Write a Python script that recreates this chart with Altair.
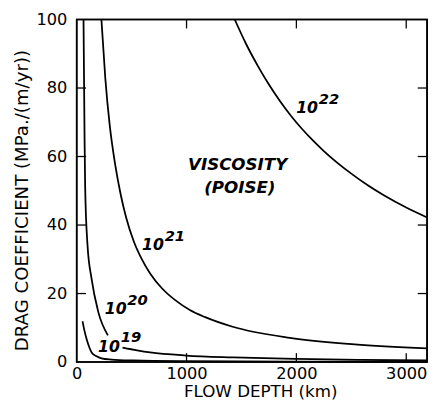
import altair as alt
import pandas as pd

# ---- curve data: flow depth (km) vs drag coefficient ----
x_1e22 = [1439, 1540, 1650, 1750, 1850, 1950, 2050, 2150, 2250, 2500, 2650, 2800, 3000, 3190]
y_1e22 = [100, 93.0, 86.4, 81.0, 76.2, 71.9, 68.1, 64.7, 61.6, 55.0, 51.6, 48.6, 45.1, 42.2]

x_1e21 = [225, 260, 300, 350, 400, 450, 520, 590, 670, 780, 900, 1030, 1170, 1420, 1940, 2530, 3190]
y_1e21 = [100, 83, 69.3, 57.7, 49, 42.2, 35.2, 30.2, 25.8, 21.4, 18.0, 15.2, 13.1, 10.3, 7.06, 5.18, 4.0]

x_1e20a = [62, 71, 77, 98, 136, 195, 284]
y_1e20a = [100, 67.4, 51, 34.3, 24.2, 14.8, 7.8]
x_1e20b = [417, 550, 669, 995, 1424, 2000, 2600, 3190]
y_1e20b = [4.2, 3.4, 2.8, 1.9, 1.35, 0.9, 0.6, 0.45]

x_1e19 = [53, 71, 92, 113, 136, 181, 225, 314, 521, 1000, 2000, 3190]
y_1e19 = [11.9, 9.1, 6.5, 4.45, 2.8, 1.67, 1.1, 0.74, 0.46, 0.25, 0.12, 0.08]

# curve labels (base "10" + exponent)
lab_base = ["10", "10", "10", "10"]
lab_exp = ["22", "21", "20", "19"]
lab_x = [1998, 595, 255, 195]
lab_y = [72.6, 32.6, 13.9, 3.0]

note_text = ["VISCOSITY", "(POISE)"]
note_x = [1465, 1485]
note_y = [57.6, 50.9]

x_ticks = [1000, 2000, 3000]
y_ticks = [20, 40, 60, 80]
x_labels = [0, 1000, 2000, 3000]
y_labels = [0, 20, 40, 60, 80, 100]

XMAX = 3190
YMAX = 100

rows = []
for name, xs, ys in [("1e22", x_1e22, y_1e22), ("1e21", x_1e21, y_1e21),
                     ("1e20a", x_1e20a, y_1e20a), ("1e20b", x_1e20b, y_1e20b),
                     ("1e19", x_1e19, y_1e19)]:
    for a, b in zip(xs, ys):
        rows.append({"seg": name, "depth": a, "drag": b})
curves = pd.DataFrame(rows)

labels = pd.DataFrame({"depth": lab_x, "drag": lab_y, "base": lab_base, "exp": lab_exp})
notes = pd.DataFrame({"depth": note_x, "drag": note_y, "t": note_text})

TX = 2.6      # inward tick length in data units (y)
TY = 85       # inward tick length in data units (x)
xt_bottom = pd.DataFrame({"depth": x_ticks, "drag": [0] * 3, "drag2": [TX] * 3})
xt_top = pd.DataFrame({"depth": x_ticks, "drag": [YMAX] * 3, "drag2": [YMAX - TX] * 3})
yt_left = pd.DataFrame({"drag": y_ticks, "depth": [0] * 4, "depth2": [TY] * 4})
yt_right = pd.DataFrame({"drag": y_ticks, "depth": [XMAX] * 4, "depth2": [XMAX - TY] * 4})
frame = pd.DataFrame({"depth": [0], "depth2": [XMAX], "drag": [0], "drag2": [YMAX]})

FONT = "DejaVu Sans"

xscale = alt.Scale(domain=[0, XMAX], nice=False, zero=False)
yscale = alt.Scale(domain=[0, YMAX], nice=False)

xaxis = alt.Axis(values=x_labels, format="d", ticks=False, domain=False, grid=False,
                 labelFont=FONT, labelFontSize=16.5, labelColor="black",
                 labelPadding=4, labelFlush=False, labelOverlap=False,
                 title="FLOW DEPTH (km)", titleFont=FONT, titleFontSize=17,
                 titleFontWeight="normal", titleColor="black",
                 titleX=187, titleY=35, titleBaseline="alphabetic", titleAlign="center")
yaxis = alt.Axis(values=y_labels, format="d", ticks=False, domain=False, grid=False,
                 labelFont=FONT, labelFontSize=16.5, labelColor="black",
                 labelPadding=10, labelFlush=False, labelOverlap=False,
                 title="DRAG COEFFICIENT (MPa./(m/yr))", titleFont=FONT, titleFontSize=18.5,
                 titleFontWeight="normal", titleColor="black",
                 titleX=-50, titleY=184, titleBaseline="alphabetic", titleAlign="center")

lines = alt.Chart(curves).mark_line(color="black", strokeWidth=1.8, interpolate="monotone").encode(
    x=alt.X("depth:Q", scale=xscale, axis=xaxis),
    y=alt.Y("drag:Q", scale=yscale, axis=yaxis),
    detail="seg:N",
)

t_bottom = alt.Chart(xt_bottom).mark_rule(color="black", strokeWidth=1.3).encode(
    x="depth:Q", y="drag:Q", y2="drag2:Q")
t_top = alt.Chart(xt_top).mark_rule(color="black", strokeWidth=1.3).encode(
    x="depth:Q", y="drag:Q", y2="drag2:Q")
t_left = alt.Chart(yt_left).mark_rule(color="black", strokeWidth=1.3).encode(
    y="drag:Q", x="depth:Q", x2="depth2:Q")
t_right = alt.Chart(yt_right).mark_rule(color="black", strokeWidth=1.3).encode(
    y="drag:Q", x="depth:Q", x2="depth2:Q")
box = alt.Chart(frame).mark_rect(fillOpacity=0, stroke="black", strokeWidth=1.6).encode(
    x="depth:Q", x2="depth2:Q", y="drag:Q", y2="drag2:Q")

lab_b = alt.Chart(labels).mark_text(font=FONT, fontSize=16, fontStyle="italic", fontWeight="bold",
                                    align="left", baseline="alphabetic", color="black").encode(
    x="depth:Q", y="drag:Q", text="base:N")
lab_e = alt.Chart(labels).mark_text(font=FONT, fontSize=15, fontStyle="italic", fontWeight="bold",
                                    align="left", baseline="alphabetic", color="black",
                                    dx=23, dy=-10).encode(
    x="depth:Q", y="drag:Q", text="exp:N")
note = alt.Chart(notes).mark_text(font=FONT, fontSize=17, fontStyle="italic", fontWeight="bold",
                                  align="center", baseline="middle", color="black").encode(
    x="depth:Q", y="drag:Q", text="t:N")

chart = alt.layer(lines, box, t_bottom, t_top, t_left, t_right, lab_b, lab_e, note).properties(
    width=432, height=395,
    autosize=alt.AutoSizeParams(type="fit", contains="padding"),
    padding={"left": 5, "top": 0, "right": 1, "bottom": 0},
).configure_view(stroke="black", strokeWidth=1.6)

chart.save("out.html", embed_options={"renderer": "svg", "actions": False})
